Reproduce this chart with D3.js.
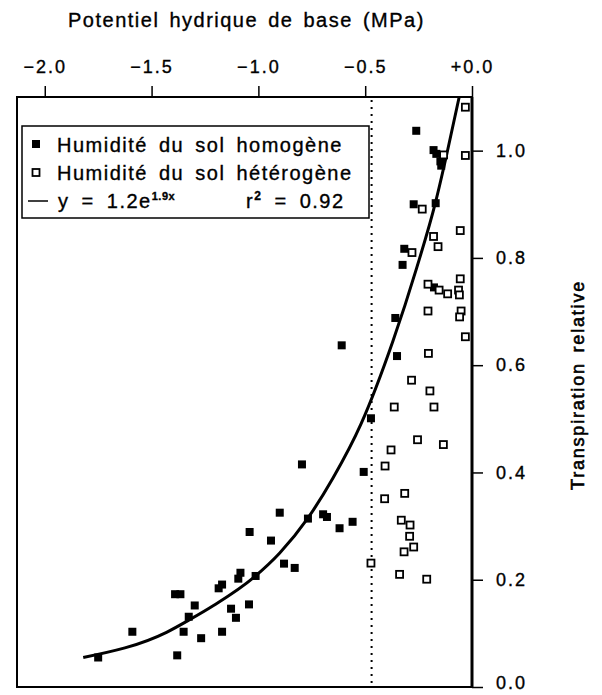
<!DOCTYPE html>
<html>
<head>
<meta charset="utf-8">
<script src="https://cdn.jsdelivr.net/npm/d3@7"></script>
<style>
  body { margin: 0; background: #fff; }
  text { font-family: "Liberation Sans", Arial, sans-serif; fill: #000; stroke: #000; stroke-width: 0.35px; }
</style>
</head>
<body>
<svg id="root" width="602" height="695"></svg>
<script>
// homogène (carrés pleins)
var homX = [-1.750, -1.590, -1.380, -1.390, -1.365, -1.298, -1.326, -1.350, -1.268, -1.170, -1.186, -1.170, -1.128, -1.105, -1.094, -1.084, -1.044, -1.041, -1.013, -0.941, -0.900, -0.880, -0.830, -0.796, -0.768, -0.697, -0.679, -0.620, -0.559, -0.610, -0.351, -0.473, -0.507, -0.261, -0.180, -0.167, -0.148, -0.144, -0.273, -0.170, -0.317, -0.325, -0.359, -0.178]
var homY = [0.055, 0.103, 0.059, 0.173, 0.173, 0.152, 0.131, 0.103, 0.091, 0.103, 0.184, 0.191, 0.146, 0.129, 0.202, 0.213, 0.154, 0.289, 0.207, 0.273, 0.325, 0.230, 0.222, 0.415, 0.314, 0.322, 0.317, 0.296, 0.308, 0.637, 0.617, 0.501, 0.401, 1.037, 1.001, 0.994, 0.980, 0.972, 0.900, 0.902, 0.817, 0.787, 0.688, 0.745]
// hétérogène (carrés vides)
var hetX = [-0.031, -0.031, -0.133, -0.233, -0.281, -0.180, -0.159, -0.055, -0.206, -0.154, -0.114, -0.063, -0.059, -0.055, -0.206, -0.051, -0.058, -0.031, -0.204, -0.283, -0.197, -0.364, -0.178, -0.255, -0.134, -0.379, -0.407, -0.315, -0.409, -0.331, -0.290, -0.292, -0.273, -0.318, -0.473, -0.339, -0.212]
var hetY = [1.081, 0.991, 0.992, 0.891, 0.810, 0.840, 0.821, 0.851, 0.751, 0.740, 0.733, 0.740, 0.731, 0.761, 0.701, 0.701, 0.690, 0.653, 0.622, 0.572, 0.552, 0.522, 0.522, 0.461, 0.452, 0.442, 0.412, 0.361, 0.351, 0.311, 0.302, 0.281, 0.261, 0.252, 0.231, 0.210, 0.201]
// courbe ajustée
var fitX = [-1.82, -1.43, -1.32, -1.21, -1.02, -0.90, -0.77, -0.65, -0.52, -0.37, -0.26, -0.17, -0.12, -0.06]
var fitY = [0.055, 0.102, 0.126, 0.152, 0.205, 0.250, 0.314, 0.390, 0.490, 0.645, 0.780, 0.905, 0.990, 1.10]
var xMajor = [-2.0, -1.5, -1.0, -0.5, 0.0]
var yMajor = [0.0, 0.2, 0.4, 0.6, 0.8, 1.0]
var refLine = -0.47

var svg = d3.select('#root')
var x = d3.scaleLinear().domain([-2.13, 0]).range([17, 472])
var y = d3.scaleLinear().domain([0, 1.1]).range([687, 97])

var xMinor = d3.range(-20, 1).map(function (d) { return d / 10 })
var yMinor = d3.range(0, 12).map(function (d) { return d / 10 })

// cadre
svg.append('rect')
    .attr('x', x.range()[0]).attr('y', y.range()[1])
    .attr('width', x.range()[1] - x.range()[0]).attr('height', y.range()[0] - y.range()[1])
    .attr('fill', 'none').attr('stroke', '#000').attr('stroke-width', 2)

// axe du haut
var fmt = function (d) { return d === 0 ? '+0.0' : d3.format('.1f')(d) }
var gx = svg.append('g').attr('transform', 'translate(0,' + y.range()[1] + ')')
gx.call(d3.axisTop(x).tickValues(xMinor).tickSize(6).tickFormat(''))
gx.call(d3.axisTop(x).tickValues(xMajor).tickSize(11).tickFormat(fmt).tickPadding(13))
gx.selectAll('.domain').remove()
gx.selectAll('line').attr('stroke-width', 1.5)
gx.selectAll('text').attr('font-size', 18).attr('letter-spacing', 2).attr('fill', '#000')

// axe de droite
var gy = svg.append('g').attr('transform', 'translate(' + x.range()[1] + ',0)')
gy.call(d3.axisRight(y).tickValues(yMinor).tickSize(6).tickFormat(''))
gy.call(d3.axisRight(y).tickValues(yMajor).tickSize(11).tickFormat(d3.format('.1f')).tickPadding(13))
gy.selectAll('.domain').remove()
gy.selectAll('line').attr('stroke-width', 1.5)
gy.selectAll('text').attr('font-size', 18).attr('letter-spacing', 2).attr('fill', '#000')
gy.selectAll('.tick').filter(function (d) { return d === 0 }).select('text').attr('dy', '0.1em')
svg.append('line')
    .attr('x1', x.range()[1]).attr('x2', x.range()[1])
    .attr('y1', y.range()[1]).attr('y2', y.range()[0])
    .attr('stroke', '#000').attr('stroke-width', 3)

// titres
svg.append('text').attr('x', 68).attr('y', 27)
    .attr('font-size', 20).attr('letter-spacing', 1.5).attr('word-spacing', 3)
    .text('Potentiel hydrique de base (MPa)')
svg.append('text')
    .attr('transform', 'translate(584,385) rotate(-90)')
    .attr('text-anchor', 'middle')
    .attr('font-size', 18).attr('letter-spacing', 1.8).attr('word-spacing', 3)
    .style('stroke-width', '0.6px')
    .text('Transpiration relative')

// ligne pointillée
svg.append('line')
    .attr('x1', x(refLine)).attr('x2', x(refLine))
    .attr('y1', y.range()[1] + 3).attr('y2', y.range()[0])
    .attr('stroke', '#000').attr('stroke-width', 2).attr('stroke-dasharray', '2,5')

// courbe
var fit = fitX.map(function (d, i) { return [d, fitY[i]] })
svg.append('path')
    .datum(fit)
    .attr('d', d3.line().x(function (d) { return x(d[0]) }).y(function (d) { return y(d[1]) }).curve(d3.curveMonotoneX))
    .attr('fill', 'none').attr('stroke', '#000').attr('stroke-width', 3)

var s = 8
svg.append('g').selectAll('rect')
    .data(homX.map(function (d, i) { return [d, homY[i]] }))
    .enter().append('rect')
    .attr('x', function (d) { return x(d[0]) - s / 2 })
    .attr('y', function (d) { return y(d[1]) - s / 2 })
    .attr('width', s).attr('height', s)
    .attr('fill', '#000')

var so = 7
svg.append('g').selectAll('rect')
    .data(hetX.map(function (d, i) { return [d, hetY[i]] }))
    .enter().append('rect')
    .attr('x', function (d) { return x(d[0]) - so / 2 })
    .attr('y', function (d) { return y(d[1]) - so / 2 })
    .attr('width', so).attr('height', so)
    .attr('fill', '#fff').attr('stroke', '#000').attr('stroke-width', 1.8)

// légende
var lg = svg.append('g')
lg.append('rect').attr('x', 22).attr('y', 126).attr('width', 347).attr('height', 92)
    .attr('fill', '#fff').attr('stroke', '#000').attr('stroke-width', 1.5)
lg.append('rect').attr('x', 32).attr('y', 140).attr('width', 8).attr('height', 8).attr('fill', '#000')
lg.append('rect').attr('x', 32.5).attr('y', 169).attr('width', 7).attr('height', 7)
    .attr('fill', '#fff').attr('stroke', '#000').attr('stroke-width', 1.8)
lg.append('line').attr('x1', 28).attr('x2', 48).attr('y1', 201).attr('y2', 201)
    .attr('stroke', '#000').attr('stroke-width', 1.5)
var legTxt = ['Humidité du sol homogène', 'Humidité du sol hétérogène']
lg.selectAll('text.lab').data(legTxt).enter().append('text')
    .attr('class', 'lab')
    .attr('x', 57).attr('y', function (d, i) { return 152 + i * 28 })
    .attr('font-size', 20).attr('letter-spacing', 1.5).attr('word-spacing', 4)
    .text(function (d) { return d })
var eq = lg.append('text').attr('x', 58).attr('y', 208)
    .attr('font-size', 20).attr('letter-spacing', 1.5).attr('word-spacing', 5)
eq.append('tspan').text('y = 1.2e')
eq.append('tspan').attr('dy', -8).attr('font-size', 11).attr('font-weight', 'bold').attr('letter-spacing', 0.5).text('1.9x')
var r2 = lg.append('text').attr('x', 246).attr('y', 208)
    .attr('font-size', 20).attr('letter-spacing', 1.5).attr('word-spacing', 5)
r2.append('tspan').text('r')
r2.append('tspan').attr('dy', -8).attr('font-size', 12).attr('font-weight', 'bold').text('2')
r2.append('tspan').attr('dy', 8).text(' = 0.92')
</script>
</body>
</html>
